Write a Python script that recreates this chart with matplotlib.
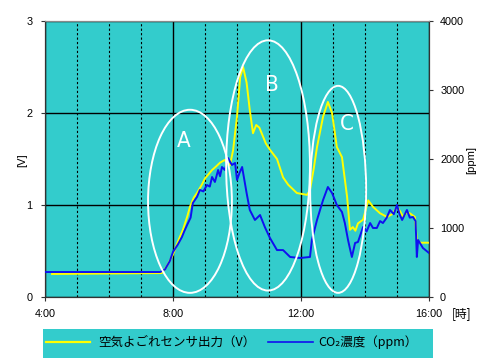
import numpy as np
import matplotlib.pyplot as plt
from matplotlib.patches import Ellipse, Rectangle
from matplotlib.lines import Line2D

# ----------------------------
# Data (time in hours)
# ----------------------------
yellow_t = [4.22, 7.65, 7.8, 8.0, 8.15, 8.31, 8.45, 8.53, 8.65, 8.75, 8.9, 9.0,
            9.1, 9.22, 9.35, 9.47, 9.62, 9.7, 9.78, 9.88, 10.0, 10.1, 10.19,
            10.3, 10.4, 10.5, 10.6, 10.7, 10.9, 11.03, 11.25, 11.44, 11.6,
            11.87, 12.19, 12.28, 12.4, 12.5, 12.69, 12.84, 12.97, 13.12,
            13.28, 13.44, 13.53, 13.62, 13.7, 13.78, 13.94, 14.1, 14.25,
            14.47, 14.69, 14.85, 15.0, 15.1, 15.19, 15.3, 15.4, 15.56, 15.62,
            15.72, 16.0]
yellow_v = [0.25, 0.26, 0.33, 0.46, 0.6, 0.73, 0.88, 0.98, 1.08, 1.13, 1.22,
            1.29, 1.33, 1.38, 1.42, 1.46, 1.49, 1.45, 1.43, 1.6, 1.96, 2.39,
            2.5, 2.33, 2.03, 1.78, 1.87, 1.84, 1.67, 1.6, 1.5, 1.30, 1.22,
            1.13, 1.11, 1.16, 1.4, 1.63, 1.96, 2.12, 2.0, 1.63, 1.52, 1.09,
            0.73, 0.76, 0.72, 0.80, 0.84, 1.05, 0.98, 0.91, 0.87, 0.90, 0.98,
            0.93, 0.87, 0.92, 0.91, 0.87, 0.62, 0.59, 0.59]

blue_t = [4.0, 7.6, 7.75, 7.9, 8.0, 8.15, 8.28, 8.35, 8.44, 8.55, 8.62, 8.75,
          8.84, 8.95, 9.06, 9.15, 9.22, 9.31, 9.41, 9.47, 9.53, 9.62, 9.72,
          9.84, 9.94, 10.0, 10.08, 10.16, 10.3, 10.4, 10.56, 10.72, 10.87,
          11.03, 11.25, 11.44, 11.66, 11.97, 12.28, 12.34, 12.5, 12.69,
          12.84, 12.97, 13.12, 13.28, 13.37, 13.47, 13.53, 13.59, 13.69,
          13.78, 13.94, 14.05, 14.16, 14.25, 14.37, 14.47, 14.56, 14.68,
          14.78, 14.9, 15.0, 15.08, 15.16, 15.31, 15.4, 15.5, 15.58, 15.62,
          15.66, 15.81, 16.0]
blue_ppm = [362, 362, 400, 520, 652, 760, 870, 950, 1043, 1150, 1362, 1450,
            1551, 1530, 1623, 1600, 1739, 1667, 1840, 1750, 1884, 1840, 2014,
            1913, 1942, 1696, 1800, 1884, 1507, 1261, 1116, 1188, 1014, 855,
            680, 680, 580, 565, 580, 826, 1116, 1406, 1594, 1507, 1333, 1232,
            1072, 826, 700, 580, 783, 797, 1014, 950, 1072, 1000, 1000, 1100,
            1072, 1150, 1261, 1200, 1333, 1200, 1116, 1261, 1150, 1159, 1100,
            580, 826, 710, 638]

# highlighted regions: label, centre (h, V), width (h), height (V)
regions = ["A", "B", "C"]
region_center = [(8.53, 1.04), (10.97, 1.43), (13.16, 1.17)]
region_size = [(2.62, 1.99), (2.62, 2.72), (1.75, 2.25)]
label_pos = [(8.34, 1.70), (11.1, 2.30), (13.44, 1.88)]

x_ticks = [4, 8, 12, 16]
x_labels = ["4:00", "8:00", "12:00", "16:00"]

TEAL = "#33CCCC"
jp = ["Noto Sans CJK JP", "DejaVu Sans"]
num = ["Liberation Sans", "DejaVu Sans"]

# ----------------------------
# Plot
# ----------------------------
fig = plt.figure(figsize=(5, 3.58), dpi=100)
ax = fig.add_axes([0.09, 0.1704, 0.768, 0.771])
ax.set_facecolor(TEAL)

ax.set_xlim(4, 16)
ax.set_ylim(0, 3)
ax.set_xticks(x_ticks)
ax.set_xticklabels(x_labels, family=num, fontsize=7.8)
ax.set_xticks(np.arange(4, 17, 1), minor=True)
ax.set_yticks([0, 1, 2, 3])
ax.set_yticklabels(["0", "1", "2", "3"], family=num, fontsize=7.8)
ax.tick_params(which="minor", length=0)
ax.tick_params(which="major", length=3, pad=6, color="#333333")
ax.grid(which="major", color="k", lw=1, ls="-")
ax.grid(which="minor", axis="x", color="k", lw=0.8, ls=(0, (2, 2)))
ax.set_axisbelow(True)

ax.plot(yellow_t, yellow_v, color="#FFFF00", lw=1.4, zorder=3)

ax2 = ax.twinx()
ax2.set_ylim(0, 4000)
ax2.set_yticks([0, 1000, 2000, 3000, 4000])
ax2.set_yticklabels(["0", "1000", "2000", "3000", "4000"], family=num, fontsize=7.8)
ax2.tick_params(length=3, pad=5, color="#333333")
ax2.plot(blue_t, blue_ppm, color="#1010F0", lw=1.4, zorder=3)

for sp in list(ax.spines.values()) + list(ax2.spines.values()):
    sp.set_color("#333333")
ax2.spines["top"].set_color("#888888")
ax.spines["top"].set_color("#888888")

# ellipses and labels are in volt units, drawn on top of both lines
for lab, c, s, p in zip(regions, region_center, region_size, label_pos):
    ax2.add_patch(Ellipse(c, s[0], s[1], fill=False, ec="white",
                          lw=1.4, zorder=5, transform=ax.transData))
    ax2.text(p[0], p[1], lab, color="white", fontsize=16,
             family="DejaVu Sans", stretch="condensed",
             ha="center", va="center", zorder=6, transform=ax.transData)

fig.text(22 / 500, 1 - 160 / 358, "[V]", rotation=90, ha="center", va="center",
         family=num, fontsize=8)
fig.text(471 / 500, 1 - 160 / 358, "[ppm]", rotation=90, ha="center", va="center",
         family=num, fontsize=8)
fig.text(462 / 500, 1 - 314 / 358, "[時]", ha="center", va="center",
         family=jp, fontsize=8.5)

# legend box at the bottom
fig.patches.append(Rectangle((43 / 500, 0), 390 / 500, 29 / 358,
                             transform=fig.transFigure, fc=TEAL, ec="none"))
ly = 1 - 342 / 358
fig.lines.append(Line2D([46 / 500, 90 / 500], [ly, ly], color="#FFFF00", lw=1.6,
                        transform=fig.transFigure))
fig.text(98 / 500, ly, "空気よごれセンサ出力（V）", family=jp, fontsize=9,
         va="center", ha="left")
fig.lines.append(Line2D([268 / 500, 313 / 500], [ly, ly], color="#1010F0", lw=1.2,
                        transform=fig.transFigure))
fig.text(318 / 500, ly, "CO₂濃度（ppm）", family=jp, fontsize=9,
         va="center", ha="left")

fig.savefig("out.png", dpi=100)
